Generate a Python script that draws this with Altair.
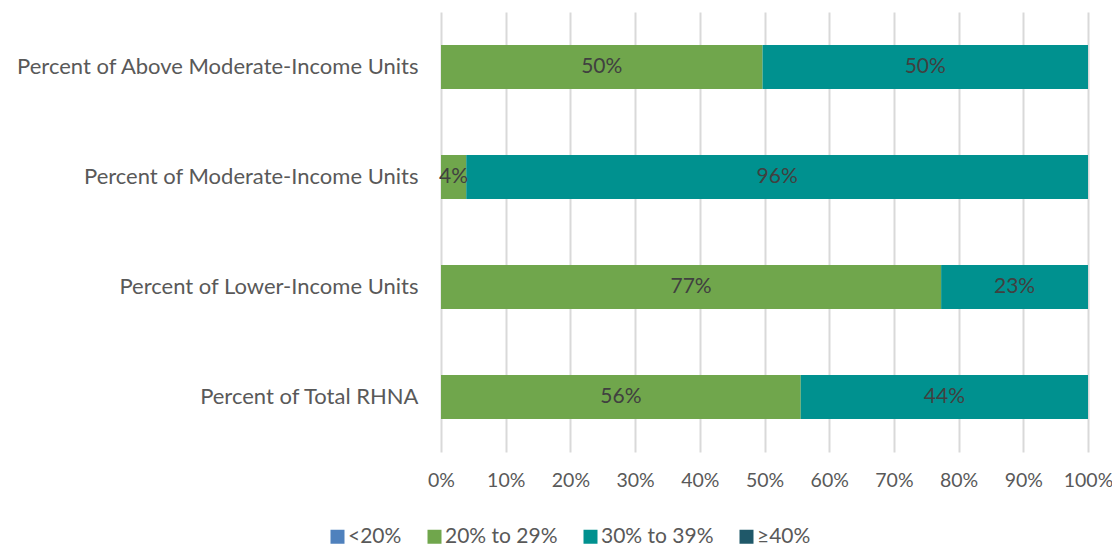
import altair as alt
import pandas as pd

categories = [
    "Percent of Above Moderate-Income Units",
    "Percent of Moderate-Income Units",
    "Percent of Lower-Income Units",
    "Percent of Total RHNA",
]
series = ["<20%", "20% to 29%", "30% to 39%", "≥40%"]
colors = ["#4F81BD", "#70A64C", "#00918F", "#1F5869"]

under20 = [0.0, 0.0, 0.0, 0.0]
s20_29 = [0.497, 0.039, 0.773, 0.556]
s30_39 = [0.503, 0.961, 0.227, 0.444]
over40 = [0.0, 0.0, 0.0, 0.0]

rows = []
for i, c in enumerate(categories):
    for j, (s, vals) in enumerate(zip(series, [under20, s20_29, s30_39, over40])):
        rows.append({"category": c, "series": s, "value": vals[i], "order": j})
df = pd.DataFrame(rows)

FONT = "Lato"
FS = 21

base = alt.Chart(df).transform_stack(
    stack="value", as_=["x0", "x1"], groupby=["category"],
    sort=[alt.SortField("order", order="ascending")]
).transform_calculate(mid="(datum.x0 + datum.x1) / 2")

y_enc = alt.Y("category:N", sort=categories, title=None,
              scale=alt.Scale(paddingInner=0.6, paddingOuter=0.3),
              axis=alt.Axis(labelFontSize=22, labelColor="#595959", labelFont=FONT,
                            labelPadding=23, ticks=False, domain=False, grid=False,
                            labelLimit=500))

bars = base.mark_bar().encode(
    y=y_enc,
    x=alt.X("x0:Q", title=None,
            scale=alt.Scale(domain=[0, 1], nice=False),
            axis=alt.Axis(format=".0%", values=[i / 10 for i in range(11)],
                          labelFontSize=19.5, labelColor="#595959", labelFont=FONT,
                          labelPadding=19, ticks=False, domain=False,
                          labelFlush=False, labelOverlap=False,
                          grid=True, gridColor="#D9D9D9", gridWidth=2)),
    x2="x1:Q",
    color=alt.Color("series:N", sort=series,
                    scale=alt.Scale(domain=series, range=colors),
                    legend=alt.Legend(title=None, orient="none", direction="horizontal",
                                      legendX=-114, legendY=514,
                                      symbolType="square", symbolSize=196,
                                      symbolStrokeWidth=0,
                                      labelFontSize=FS, labelColor="#595959",
                                      labelFont=FONT, columnPadding=22,
                                      symbolOffset=0, labelOffset=0)),
    order=alt.Order("order:Q"),
)

labels = base.transform_filter("datum.value > 0").mark_text(
    fontSize=FS, color="#404040", font=FONT
).encode(
    y=alt.Y("category:N", sort=categories),
    x=alt.X("mid:Q"),
    text=alt.Text("value:Q", format=".0%"),
)

chart = alt.layer(bars, labels).properties(
    width=647, height=440,
    autosize=alt.AutoSizeParams(type="none"),
    padding={"left": 433, "top": 4, "right": 24, "bottom": 100},
).configure_view(stroke=None)

chart.save("out.html", embed_options={"renderer": "svg", "actions": False})
